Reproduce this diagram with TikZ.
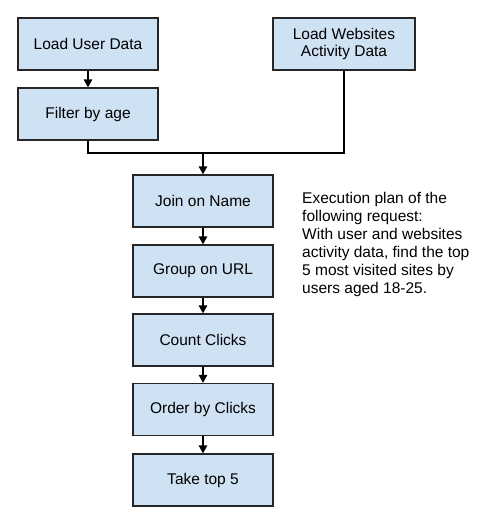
\documentclass[tikz,border=0pt]{standalone}
\usepackage{fontspec}
\setmainfont{Liberation Sans}
\usetikzlibrary{arrows.meta}
\definecolor{boxfill}{HTML}{CFE2F3}
\definecolor{boxline}{HTML}{262626}
\begin{document}
\begin{tikzpicture}[x=1pt,y=1pt,
  stepbox/.style={draw=boxline,fill=boxfill,line width=1.3pt,minimum width=140pt,minimum height=52pt,inner sep=0pt,align=center,font=\fontsize{15.5}{17.5}\selectfont},
  conn/.style={draw=black,line width=1.3pt},
  arr/.style={conn,-{Triangle[length=8pt,width=8.5pt]}}]
\useasboundingbox (0,0) rectangle (500,-530);
\node[stepbox] (load) at (88,-44) {Load User Data};
\node[stepbox] (filter) at (88,-114) {Filter by age};
\node[stepbox,minimum width=142pt] (web) at (344,-44) {Load Websites\\Activity Data};
\node[stepbox] (join) at (203,-201) {Join on Name};
\node[stepbox] (group) at (203,-271) {Group on URL};
\node[stepbox] (count) at (203,-340) {Count Clicks};
\node[stepbox] (order) at (203,-409.5) {Order by Clicks};
\node[stepbox] (take) at (203,-480) {Take top 5};
\coordinate (j) at (203,-153);
\draw[arr] (load) -- (filter);
\draw[conn] (filter.south) |- (j) -| (web.south);
\draw[arr] (j) -- (join);
\draw[arr] (join) -- (group);
\draw[arr] (group) -- (count);
\draw[arr] (count) -- (order);
\draw[arr] (order) -- (take);
\node[anchor=north west,inner sep=0pt,align=left,font=\fontsize{15.5}{18}\selectfont] (desc) at (302,-192) {Execution plan of the\\following request:\\With user and websites\\activity data, find the top\\5 most visited sites by\\users aged 18-25.};
\end{tikzpicture}
\end{document}
